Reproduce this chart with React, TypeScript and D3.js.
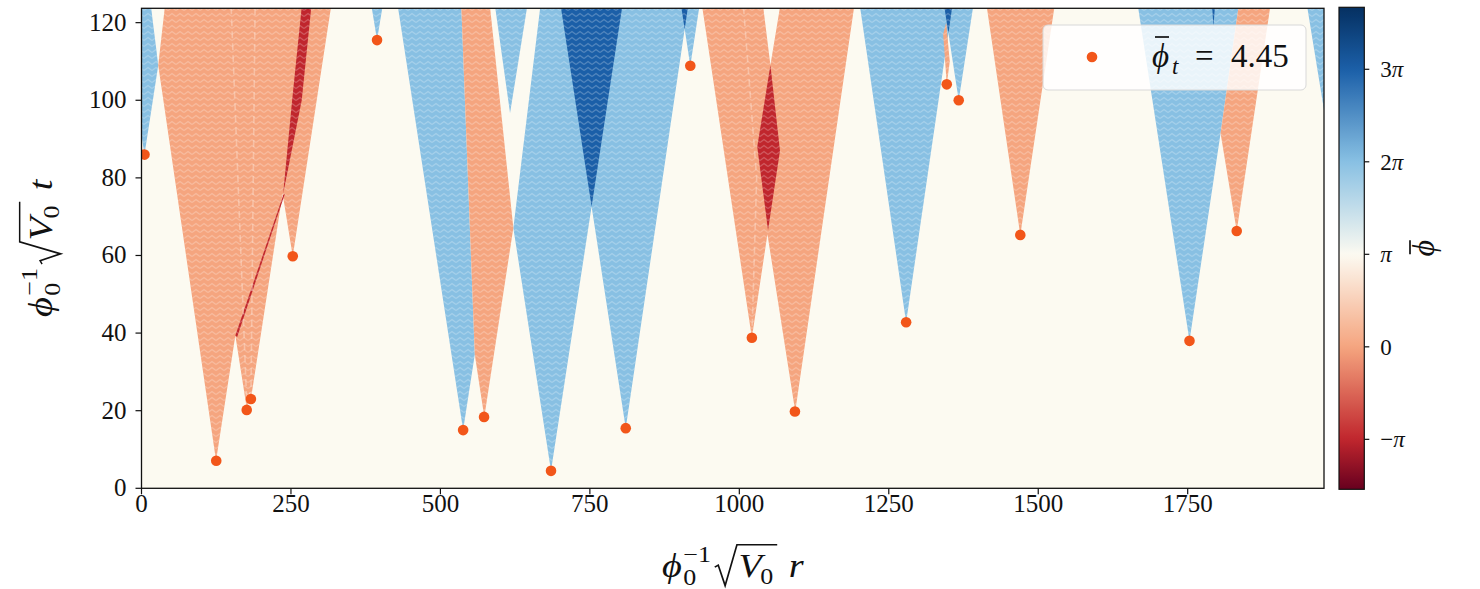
import React from 'react';
import * as d3 from 'd3';

const PI = Math.PI;
const W = 1480;
const H = 589;

// axis limits
const rMax = 1978;
const tMax = 123.7;
const phiMin = -1.54 * PI;
const phiMax = 3.67 * PI;

// nucleation events (r, t)
const nucR = [5, 125, 176, 183, 253, 394, 538, 573, 685, 810, 918, 1021, 1093, 1279, 1347, 1367, 1470, 1753, 1832];
const nucT = [86, 7.1, 20.2, 23, 59.8, 115.5, 15, 18.4, 4.5, 15.5, 108.9, 38.8, 19.8, 42.8, 104.1, 100, 65.3, 38, 66.3];

const xTicks = [0, 250, 500, 750, 1000, 1250, 1500, 1750];
const yTicks = [0, 20, 40, 60, 80, 100, 120];
const cbTicks = [-1, 0, 1, 2, 3];
const cbLabels = ['−', '0', '', '2', '3'];

const phiT = 4.45;

// colormap anchors (field value in units of pi -> colour)
const cmapPhase = [-1.54, -1, 0, 1, 2, 3, 3.67];
const cmapColor = ['#67001f', '#c0262d', '#f5a57f', '#fcfaf1', '#88c0e3', '#1b5fa8', '#053061'];

// regions of the (r, t) plane, grouped by field value (units of pi)
const blueDomains: [number, number][][] = [
  [[5, 86], [28, 109], [16, 124], [-33, 124]],
  [[1978, 97.5], [1950, 124], [1990, 124], [1990, 97.5]],
  [[394, 115.5], [403, 124], [385, 124]],
  [[538, 15], [557.5, 34.5], [535, 124], [429, 124]],
  [[616.5, 96.7], [645, 124], [591.6, 124]],
  [[685, 4.5], [752.9, 72.6], [810, 15.5], [914, 124], [667, 124], [622, 67.1]],
  [[918, 108.9], [933, 124], [903, 124]],
  [[1279, 42.8], [1356, 124], [1202, 124]],
  [[1367, 100], [1391, 124], [1343, 124]],
  [[1753, 38], [1805, 91.5], [1835, 124], [1667, 124]],
];
const darkBlueDomains: [number, number][][] = [
  [[752.9, 72.6], [804, 124], [701.5, 124]],
  [[908.6, 118.3], [914, 124], [903, 124]],
  [[1349.8, 117.3], [1356, 124], [1343, 124]],
  [[1793, 119], [1795.5, 124], [1791, 124]],
];
const orangeDomains: [number, number][][] = [
  [[124.7, 7.1], [157, 39.4], [176.5, 20.2], [181, 24.9], [183, 23], [236, 76], [253, 59.8], [317, 124], [39, 124], [28, 109]],
  [[573.4, 18.4], [622, 67.1], [583, 124], [535, 124], [557.5, 34.5]],
  [[1021, 38.8], [1047, 65.5], [1093.5, 19.8], [1192, 124], [1068, 124], [1052, 109], [1040, 124], [938, 124]],
  [[1347, 104.1], [1352, 110], [1346, 120], [1341, 117]],
  [[1470, 65.3], [1527, 124], [1414, 124]],
  [[1832, 66.3], [1888, 124], [1835, 124], [1805, 91.5]],
];
const redDomains: [number, number][][] = [
  [[237, 76], [268, 100], [284, 124], [268, 124], [252, 100]],
  [[157, 39.4], [237, 75.5], [240, 76], [160, 39]],
  [[1048, 66.5], [1068, 87], [1052, 109], [1030, 88]],
];

// faint wall traces left inside merged bubbles
const wallLines: [number, number][][] = [
  [[176.5, 20.2], [150, 124]],
  [[183, 23], [190, 124]],
  [[1021, 38.8], [1029, 80], [1007, 124]],
];

const domainSets: { phase: number; polys: [number, number][][] }[] = [
  { phase: 2, polys: blueDomains },
  { phase: 0, polys: orangeDomains },
  { phase: 3, polys: darkBlueDomains },
  { phase: -1, polys: redDomains },
];

const FONT = '"Liberation Serif", "DejaVu Serif", serif';

let _ctx: CanvasRenderingContext2D | null = null;
function tw(s: string, size: number, italic = false) {
  if (!_ctx) _ctx = document.createElement('canvas').getContext('2d');
  if (!_ctx) return s.length * size * 0.5;
  _ctx.font = `${italic ? 'italic ' : ''}${size}px ${FONT}`;
  return _ctx.measureText(s).width;
}

// phi_0^{-1} sqrt(V_0) <v>
function AxisLabel({ x, y, size, v, rotate = 0 }: { x: number; y: number; size: number; v: string; rotate?: number }) {
  const S = size;
  const s2 = S * 0.68;
  const wPhi = tw('ϕ', S, true);
  const xs = wPhi + 0.04 * S;
  const wScript = Math.max(tw('0', s2), tw('−1', s2));
  const a = xs + wScript + 0.1 * S;
  const xV = a + 0.62 * S;
  const wV = tw('V', S, true);
  const wV0 = wV + tw('0', s2) - 0.02 * S;
  const xEnd = xV + wV0 + 0.08 * S;
  const xLast = xEnd + 0.3 * S;
  const total = xLast + tw(v, S, true);
  const sx = 1.16;
  const rad = `M${a},${-0.3 * S} L${a + 0.09 * S},${-0.36 * S} L${a + 0.27 * S},${0.26 * S} L${a + 0.58 * S},${-0.98 * S} L${xEnd},${-0.98 * S}`;
  return (
    <g transform={`translate(${x},${y}) rotate(${rotate}) scale(${sx},1)`}>
      <g transform={`translate(${-total / 2},0)`} fontFamily={FONT} fill="#111">
        <text x={0} y={0} fontSize={S} fontStyle="italic">ϕ</text>
        <text x={xs} y={0.25 * S} fontSize={s2}>0</text>
        <text x={xs} y={-0.46 * S} fontSize={s2}>−1</text>
        <path d={rad} fill="none" stroke="#111" strokeWidth={0.045 * S} />
        <text x={xV} y={0} fontSize={S} fontStyle="italic">V</text>
        <text x={xV + wV - 0.04 * S} y={0.22 * S} fontSize={s2}>0</text>
        <text x={xLast} y={0} fontSize={S} fontStyle="italic">{v}</text>
      </g>
    </g>
  );
}

export default function App() {
  const m = { left: 141.5, right: 1324, top: 8.3, bottom: 488.3 };
  const x = d3.scaleLinear().domain([0, rMax]).range([m.left, m.right]);
  const y = d3.scaleLinear().domain([0, tMax]).range([m.bottom, m.top]);
  const color = d3
    .scaleLinear<string>()
    .domain(cmapPhase.map(p => p * PI))
    .range(cmapColor)
    .interpolate(d3.interpolateRgb)
    .clamp(true);
  const cb = { x: 1339, w: 25.3, top: 7.3, bottom: 489.3 };
  const cy = d3.scaleLinear().domain([phiMin, phiMax]).range([cb.bottom, cb.top]);
  const line = d3.line<[number, number]>().x(d => x(d[0])).y(d => y(d[1]));
  const stops = d3.range(0, 1.0001, 0.01);

  return (
    <svg width={W} height={H} style={{ position: 'absolute', left: 0, top: 0, background: '#fff' }}>
      <defs>
        <clipPath id="plot">
          <rect x={m.left} y={m.top} width={m.right - m.left} height={m.bottom - m.top} />
        </clipPath>
        <linearGradient id="cbar" x1="0" y1="1" x2="0" y2="0">
          {stops.map(s => (
            <stop key={s} offset={s} stopColor={color(phiMin + s * (phiMax - phiMin))} />
          ))}
        </linearGradient>
        <pattern id="zig" width={8} height={6} patternUnits="userSpaceOnUse">
          <path d="M0,4.5 L4,1.5 L8,4.5" fill="none" stroke="#fff" strokeOpacity={0.24} strokeWidth={1.4} />
        </pattern>
      </defs>

      <g clipPath="url(#plot)">
        <rect x={m.left} y={m.top} width={m.right - m.left} height={m.bottom - m.top} fill={color(PI)} />
        {domainSets.map(ds =>
          ds.polys.map((p, i) => (
            <g key={`${ds.phase}-${i}`}>
              <path d={line(p) + 'Z'} fill={color(ds.phase * PI)} />
              <path d={line(p) + 'Z'} fill="url(#zig)" />
            </g>
          ))
        )}
        {wallLines.map((p, i) => (
          <path key={i} d={line(p) ?? ''} fill="none" stroke="#fde3d2" strokeOpacity={0.45} strokeWidth={1.6} strokeDasharray="7 5" />
        ))}
        {nucR.map((r, i) => (
          <circle key={i} cx={x(r)} cy={y(nucT[i])} r={5.3} fill="#f2561a" />
        ))}
      </g>

      <rect x={m.left} y={m.top} width={m.right - m.left} height={m.bottom - m.top} fill="none" stroke="#111" strokeWidth={1.3} />

      {xTicks.map(t => (
        <g key={t}>
          <line x1={x(t)} x2={x(t)} y1={m.bottom} y2={m.bottom + 6} stroke="#111" strokeWidth={1.2} />
          <text x={x(t)} y={m.bottom + 24} fontSize={25} fontFamily={FONT} textAnchor="middle" fill="#111">{t}</text>
        </g>
      ))}
      {yTicks.map(t => (
        <g key={t}>
          <line x1={m.left - 6} x2={m.left} y1={y(t)} y2={y(t)} stroke="#111" strokeWidth={1.2} />
          <text x={m.left - 15} y={y(t) + 8} fontSize={25} fontFamily={FONT} textAnchor="end" fill="#111">{t}</text>
        </g>
      ))}

      <AxisLabel x={(m.left + m.right) / 2} y={577} size={33} v="r" />
      <AxisLabel x={52} y={(m.top + m.bottom) / 2} size={33} v="t" rotate={-90} />

      {/* legend */}
      <g>
        <rect x={1043} y={25} width={263} height={65} rx={5} fill="#fff" fillOpacity={0.82} stroke="#d8d8d8" strokeWidth={1} />
        <circle cx={1092} cy={57} r={5.3} fill="#f2561a" />
        <g fontFamily={FONT} fill="#111">
          <text x={1152} y={67} fontSize={33} fontStyle="italic">ϕ</text>
          <line x1={1155} x2={1169} y1={37} y2={37} stroke="#111" strokeWidth={1.7} />
          <text x={1172} y={74} fontSize={23} fontStyle="italic">t</text>
          <text x={1195} y={67} fontSize={33}>=</text>
          <text x={1231} y={67} fontSize={33}>{phiT.toFixed(2)}</text>
        </g>
      </g>

      {/* colorbar */}
      <rect x={cb.x} y={cb.top} width={cb.w} height={cb.bottom - cb.top} fill="url(#cbar)" stroke="#111" strokeWidth={1.2} />
      {cbTicks.map((k, i) => (
        <g key={k}>
          <line x1={cb.x + cb.w} x2={cb.x + cb.w + 5} y1={cy(k * PI)} y2={cy(k * PI)} stroke="#111" strokeWidth={1.2} />
          <text x={cb.x + cb.w + 16} y={cy(k * PI) + 8} fontSize={23} fontFamily={FONT} fill="#111">
            {cbLabels[i]}
            {k !== 0 && <tspan fontStyle="italic">π</tspan>}
          </text>
        </g>
      ))}
      <g transform={`translate(1434,${(cb.top + cb.bottom) / 2}) rotate(-90)`} fontFamily={FONT} fill="#111">
        <text x={0} y={0} fontSize={32} fontStyle="italic" textAnchor="middle">ϕ</text>
        <line x1={-6} x2={8} y1={-24} y2={-24} stroke="#111" strokeWidth={1.7} />
      </g>
    </svg>
  );
}
